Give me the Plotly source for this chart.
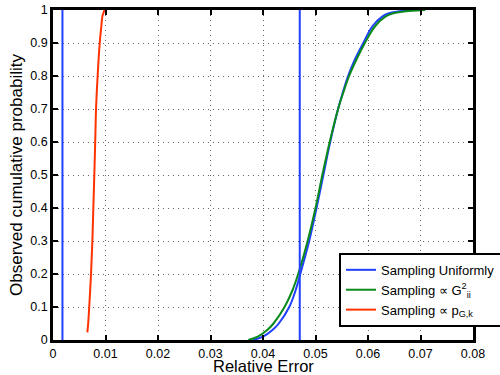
import plotly.graph_objects as go

# Uniform sampling CDF
uni_p = [0, 0.01, 0.03, 0.05, 0.1, 0.15, 0.2, 0.3, 0.4, 0.5, 0.6, 0.7, 0.75, 0.8, 0.85, 0.9,
         0.95, 0.98, 0.99, 0.995, 1.0]
uni_x = [0.0381, 0.0400, 0.0418, 0.0430, 0.0450, 0.0462, 0.0471, 0.0488, 0.0502, 0.0515, 0.0528,
         0.0543, 0.0552, 0.0562, 0.0575, 0.0591, 0.0608, 0.0627, 0.0640, 0.0655, 0.0690]
# Sampling proportional to G_ii^2
g_p = [0, 0.01, 0.03, 0.05, 0.1, 0.15, 0.2, 0.3, 0.4, 0.5, 0.6, 0.7, 0.75, 0.8, 0.85, 0.9,
       0.95, 0.98, 0.99, 0.995, 1.0]
g_x = [0.0372, 0.0390, 0.0408, 0.0420, 0.0441, 0.0456, 0.0467, 0.0485, 0.0500, 0.0513, 0.0527,
       0.0543, 0.0553, 0.0564, 0.0578, 0.0594, 0.0613, 0.0633, 0.0648, 0.0665, 0.0709]
# Sampling proportional to p_G,k
r_p = [0.023, 0.05, 0.1, 0.2, 0.3, 0.4, 0.5, 0.6, 0.7, 0.8, 0.9, 0.95, 0.98, 1.0]
r_x = [0.00654, 0.0067, 0.0069, 0.00724, 0.0075, 0.00768, 0.00787, 0.00804, 0.0082, 0.0085,
       0.0089, 0.0092, 0.0094, 0.0098]
# vertical reference lines
vlines = [0.0018, 0.047]

X_TITLE = "Relative Error"
Y_TITLE = "Observed cumulative probability"

BLUE = "#2040ff"
GREEN = "#0a8a1a"
RED = "#ff3300"

fig = go.Figure()
fig.add_trace(go.Scatter(x=uni_x, y=uni_p, mode="lines", name="Sampling Uniformly",
                         line=dict(color=BLUE, width=2, shape="spline", smoothing=1)))
fig.add_trace(go.Scatter(x=g_x, y=g_p, mode="lines", name="Sampling ∝ G<sup>2</sup><sub>ii</sub>",
                         line=dict(color=GREEN, width=2, shape="spline", smoothing=1)))
fig.add_trace(go.Scatter(x=r_x, y=r_p, mode="lines", name="Sampling ∝ p<sub>G,k</sub>",
                         line=dict(color=RED, width=2, shape="spline", smoothing=1)))
for v in vlines:
    fig.add_trace(go.Scatter(x=[v, v], y=[0, 1], mode="lines", showlegend=False,
                             line=dict(color=BLUE, width=2)))

axis_common = dict(showline=True, linecolor="black", linewidth=2.5, mirror="ticks",
                   ticks="inside", ticklen=5, tickwidth=1.5, tickcolor="black",
                   showgrid=True, gridcolor="#666666", griddash="1px,4px", gridwidth=1,
                   zeroline=False, automargin=True, tickfont=dict(size=12.5, color="black"))

fig.update_layout(
    width=500, height=375,
    margin=dict(l=53, r=27, t=10, b=35, autoexpand=False),
    paper_bgcolor="white", plot_bgcolor="white",
    font=dict(family="Liberation Sans, Arial, sans-serif", color="black"),
    xaxis=dict(range=[0, 0.08], dtick=0.01, tickformat="~g", **axis_common),
    yaxis=dict(range=[0, 1], dtick=0.1, tickformat="~g",
               title=dict(text=Y_TITLE, font=dict(size=17), standoff=4),
               **axis_common),
    legend=dict(x=0.681, y=0.264, xanchor="left", yanchor="top", bgcolor="white",
                bordercolor="black", borderwidth=2, font=dict(size=13),
                tracegroupgap=0, itemwidth=30),
    showlegend=True,
    annotations=[dict(text=X_TITLE, xref="paper", yref="paper", x=0.5, y=-0.103,
                      xanchor="center", yanchor="bottom", showarrow=False,
                      height=14, borderpad=0, valign="middle",
                      font=dict(size=16.5, color="black"))],
)

fig.write_html("out.html")
